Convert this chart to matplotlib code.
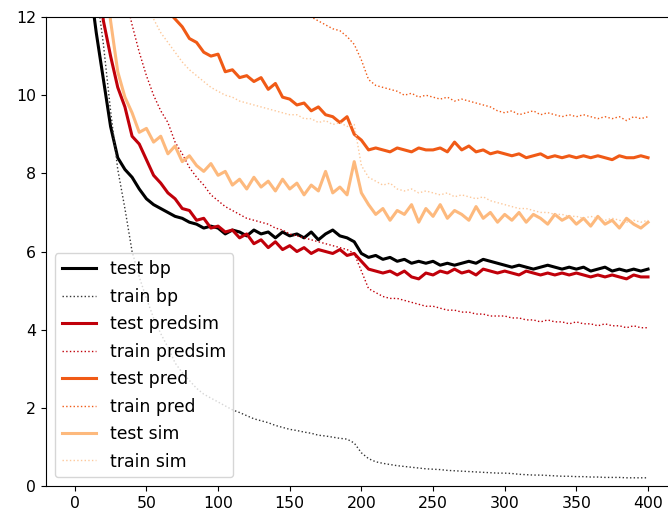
"""
Training curves: test / train loss for bp, predsim, pred, sim
"""

import numpy as np
import matplotlib.pyplot as plt

# epochs sampled every 5
epochs = np.arange(0, 401, 5)

test_bp = [22, 17, 13.0, 11.6, 10.4, 9.2, 8.4, 8.1, 7.9, 7.6,
           7.35, 7.2, 7.1, 7.0, 6.9, 6.85, 6.75, 6.7, 6.6, 6.65,
           6.6, 6.45, 6.55, 6.5, 6.4, 6.55, 6.45, 6.5, 6.35, 6.5,
           6.4, 6.45, 6.35, 6.5, 6.3, 6.45, 6.55, 6.4, 6.35, 6.25,
           5.95, 5.85, 5.9, 5.8, 5.85, 5.75, 5.8, 5.7, 5.75, 5.7,
           5.75, 5.65, 5.7, 5.65, 5.7, 5.75, 5.7, 5.8, 5.75, 5.7,
           5.65, 5.6, 5.65, 5.6, 5.55, 5.6, 5.65, 5.6, 5.55, 5.6,
           5.55, 5.6, 5.5, 5.55, 5.6, 5.5, 5.55, 5.5, 5.55, 5.5,
           5.55]
train_bp = [30, 22, 16.5, 12.7, 11.3, 9.6, 8.1, 7.1, 6.0, 5.35,
            4.8, 4.3, 3.9, 3.55, 3.15, 2.9, 2.7, 2.5, 2.35, 2.25,
            2.15, 2.05, 1.95, 1.88, 1.8, 1.72, 1.67, 1.62, 1.55, 1.5,
            1.45, 1.42, 1.38, 1.35, 1.3, 1.28, 1.25, 1.22, 1.2, 1.1,
            0.85, 0.7, 0.62, 0.58, 0.55, 0.52, 0.5, 0.48, 0.46, 0.44,
            0.43, 0.42, 0.4, 0.39, 0.38, 0.37, 0.36, 0.35, 0.34, 0.33,
            0.33, 0.32, 0.3, 0.29, 0.28, 0.28, 0.27, 0.26, 0.25, 0.25,
            0.24, 0.24, 0.23, 0.23, 0.22, 0.22, 0.22, 0.21, 0.21, 0.21,
            0.21]
test_predsim = [28, 21, 16, 13.3, 11.9, 11.0, 10.2, 9.7, 8.95, 8.75,
                8.35, 7.95, 7.75, 7.5, 7.35, 7.1, 7.05, 6.8, 6.85, 6.6,
                6.65, 6.5, 6.55, 6.35, 6.45, 6.2, 6.3, 6.1, 6.25, 6.05,
                6.15, 6.0, 6.1, 5.95, 6.05, 6.0, 5.95, 6.05, 5.9, 5.95,
                5.75, 5.55, 5.5, 5.45, 5.5, 5.4, 5.5, 5.35, 5.3, 5.45,
                5.4, 5.5, 5.45, 5.55, 5.45, 5.5, 5.4, 5.55, 5.5, 5.45,
                5.5, 5.45, 5.4, 5.5, 5.45, 5.4, 5.45, 5.4, 5.45, 5.4,
                5.45, 5.4, 5.35, 5.4, 5.35, 5.4, 5.35, 5.3, 5.4, 5.35,
                5.35]
train_predsim = [30, 25, 21, 18, 16, 14.6, 13.5, 12.6, 11.8, 11.1,
                 10.5, 10.0, 9.6, 9.3, 8.8, 8.5, 8.15, 7.9, 7.7, 7.45,
                 7.3, 7.15, 7.05, 6.95, 6.85, 6.8, 6.75, 6.7, 6.6, 6.55,
                 6.45, 6.4, 6.35, 6.3, 6.25, 6.2, 6.15, 6.1, 6.05, 5.95,
                 5.5, 5.05, 4.95, 4.85, 4.8, 4.8, 4.75, 4.7, 4.65, 4.6,
                 4.6, 4.55, 4.5, 4.5, 4.45, 4.45, 4.4, 4.4, 4.35, 4.35,
                 4.35, 4.3, 4.3, 4.25, 4.25, 4.2, 4.25, 4.2, 4.2, 4.15,
                 4.2, 4.15, 4.15, 4.1, 4.15, 4.1, 4.1, 4.05, 4.1, 4.05,
                 4.05]
test_pred = [24, 21, 19, 17.5, 16.3, 15.3, 14.6, 14.0, 13.5, 13.1,
             12.8, 12.55, 12.35, 12.15, 11.95, 11.75, 11.45, 11.35, 11.1, 11.0,
             11.05, 10.6, 10.65, 10.45, 10.5, 10.35, 10.45, 10.15, 10.3, 9.95,
             9.9, 9.75, 9.8, 9.6, 9.7, 9.5, 9.45, 9.3, 9.45, 9.0,
             8.85, 8.6, 8.65, 8.6, 8.55, 8.65, 8.6, 8.55, 8.65, 8.6,
             8.6, 8.65, 8.55, 8.8, 8.6, 8.7, 8.55, 8.6, 8.5, 8.55,
             8.5, 8.45, 8.5, 8.4, 8.45, 8.5, 8.4, 8.45, 8.4, 8.45,
             8.4, 8.45, 8.4, 8.45, 8.4, 8.35, 8.45, 8.4, 8.4, 8.45,
             8.4]
train_pred = [32, 30, 28.2, 26.6, 25.1, 23.7, 22.4, 21.2, 20.0, 19.0,
              18.0, 17.4, 16.9, 16.4, 15.9, 15.5, 15.1, 14.8, 14.5, 14.2,
              14.0, 13.8, 13.6, 13.4, 13.2, 13.05, 12.9, 12.75, 12.6, 12.45,
              12.3, 12.2, 12.1, 12.0, 11.9, 11.8, 11.7, 11.65, 11.5, 11.3,
              10.9, 10.4, 10.25, 10.2, 10.15, 10.1, 10.0, 10.05, 9.95, 10.0,
              9.95, 9.9, 9.95, 9.85, 9.9, 9.85, 9.8, 9.75, 9.7, 9.6,
              9.55, 9.6, 9.5, 9.55, 9.6, 9.5, 9.55, 9.5, 9.45, 9.5,
              9.45, 9.5, 9.45, 9.4, 9.45, 9.4, 9.45, 9.35, 9.45, 9.4,
              9.45]
test_sim = [30, 23, 18, 15.3, 13.5, 11.9, 10.6, 9.95, 9.55, 9.05,
            9.15, 8.8, 8.95, 8.5, 8.7, 8.3, 8.45, 8.2, 8.05, 8.25,
            7.95, 8.05, 7.7, 7.85, 7.6, 7.9, 7.65, 7.8, 7.55, 7.85,
            7.6, 7.75, 7.45, 7.7, 7.55, 8.05, 7.5, 7.65, 7.45, 8.3,
            7.5, 7.2, 6.95, 7.1, 6.8, 7.05, 6.95, 7.2, 6.75, 7.1,
            6.9, 7.2, 6.85, 7.05, 6.95, 6.8, 7.15, 6.85, 7.0, 6.75,
            6.95, 6.8, 7.0, 6.75, 6.95, 6.85, 6.7, 6.95, 6.8, 6.9,
            6.7, 6.85, 6.65, 6.9, 6.7, 6.8, 6.6, 6.85, 6.7, 6.6,
            6.75]
train_sim = [40, 33, 28, 24, 21, 18.6, 16.6, 15.0, 13.8, 12.9,
             12.3, 11.95, 11.6, 11.35, 11.1, 10.85, 10.65, 10.5, 10.35, 10.2,
             10.1, 10.0, 9.95, 9.85, 9.8, 9.75, 9.7, 9.65, 9.6, 9.55,
             9.5, 9.5, 9.4, 9.4, 9.3, 9.35, 9.25, 9.3, 9.2, 9.25,
             8.2, 7.9, 7.8, 7.7, 7.75, 7.6, 7.55, 7.6, 7.5, 7.55,
             7.5, 7.45, 7.5, 7.4, 7.45, 7.4, 7.35, 7.4, 7.3, 7.25,
             7.2, 7.15, 7.1, 7.1, 7.05, 7.0, 7.0, 6.95, 6.95, 6.9,
             6.9, 6.85, 6.9, 6.85, 6.8, 6.85, 6.8, 6.75, 6.8, 6.75,
             6.8]

series = [
    ('test bp', test_bp, 'black', '-'),
    ('train bp', train_bp, '#333333', ':'),
    ('test predsim', test_predsim, '#c0000a', '-'),
    ('train predsim', train_predsim, '#c0000a', ':'),
    ('test pred', test_pred, '#f05a16', '-'),
    ('train pred', train_pred, '#f05a16', ':'),
    ('test sim', test_sim, '#fdb97d', '-'),
    ('train sim', train_sim, '#fdc89a', ':'),
]

plt.rcParams['font.size'] = 11.3

fig = plt.figure(figsize=(6.68, 5.13), dpi=100)
fig.patch.set_facecolor('white')
ax = fig.add_axes([0.069, 0.0526, 0.944, 0.9142])

for label, vals, col, ls in series:
    lw = 2.2 if ls == '-' else 1.0
    ax.plot(epochs, vals, color=col, linestyle=ls, linewidth=lw, label=label)

ax.set_xlim(-20, 420)
ax.set_ylim(0, 12)
ax.set_xticks(np.arange(0, 401, 50))
ax.set_yticks(np.arange(0, 13, 2))
ax.legend(loc='lower left', fontsize=12.4, labelspacing=0.55, handlelength=2.0)

fig.savefig('out.png', dpi=100, facecolor='white')
plt.close(fig)
